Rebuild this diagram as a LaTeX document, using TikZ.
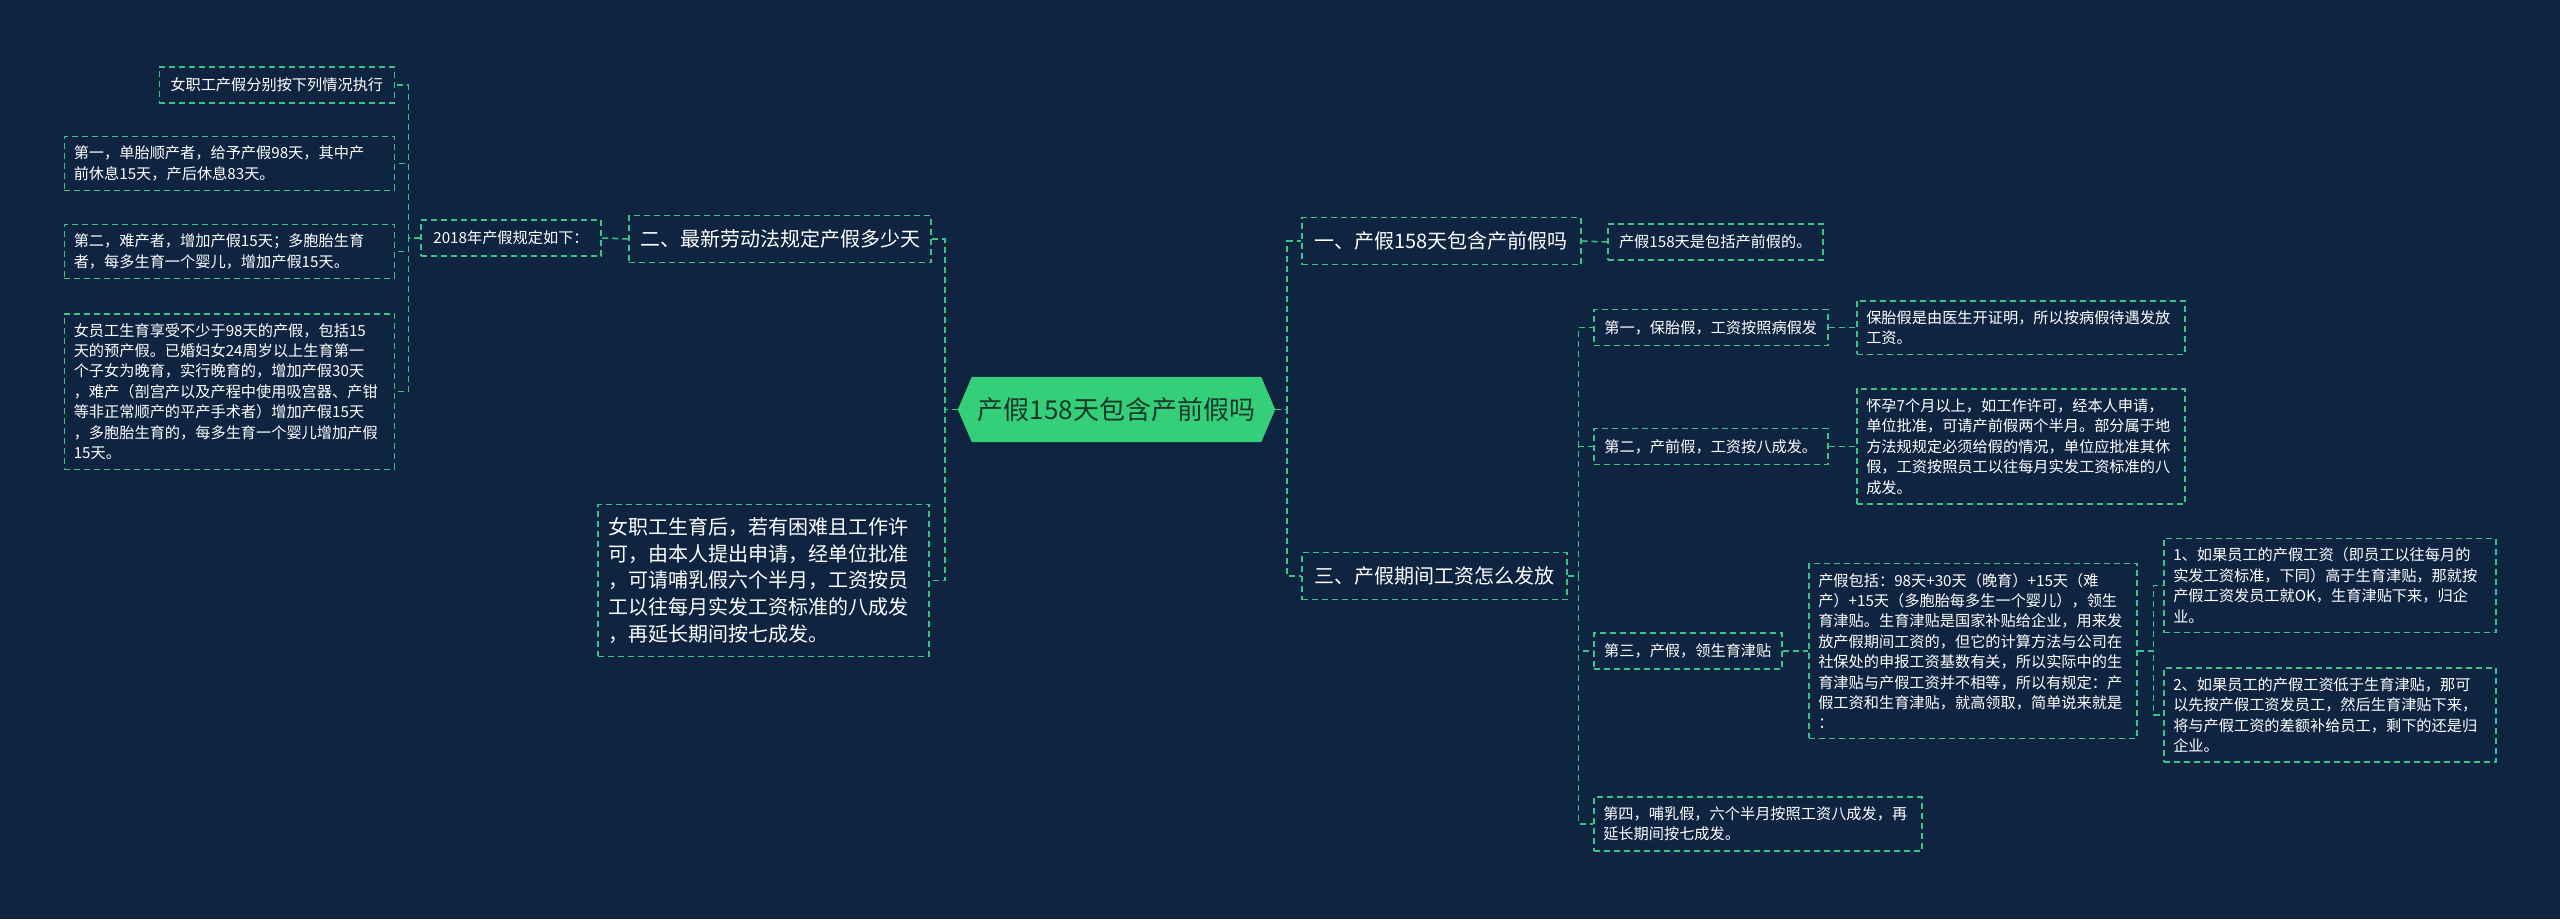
\documentclass[tikz,border=0pt]{standalone}
\usepackage{fontspec}
\setmainfont{Noto Sans CJK SC}
\usetikzlibrary{backgrounds}
\definecolor{bg}{HTML}{0E2441}
\definecolor{lineg}{HTML}{3CC483}
\definecolor{hexfill}{HTML}{34CF78}
\definecolor{hextext}{HTML}{17392B}

\begin{document}
\begin{tikzpicture}[x=1pt,y=-1pt,
    link/.style={draw=lineg, dash pattern=on 6pt off 4pt, line width=1.5pt},
    leaf/.style={draw=lineg, dash pattern=on 6pt off 4pt, line width=1.5pt, text=white,
      font=\fontsize{15.2}{20.4}\selectfont, inner xsep=9.5pt, inner ysep=9.5pt,
      minimum height=36pt, align=left},
    topic/.style={leaf, font=\fontsize{20}{26.7}\selectfont, inner xsep=10pt, inner ysep=13pt,
      minimum height=47pt},
    centre/.style={minimum width=317pt, minimum height=65pt, inner sep=0pt, text=hextext,
      font=\fontsize{26}{30}\selectfont}]
  \begin{scope}[on background layer]
    \fill[bg] (0,0) rectangle (2560,919);
  \end{scope}
  \useasboundingbox (0,0) rectangle (2560,919);

  \node[centre] (C) at (1116.5,409.5) {产假158天包含产前假吗};
  \begin{scope}[on background layer]
    \fill[hexfill] (C.west) -- ([xshift=14pt]C.north west) -- ([xshift=-14pt]C.north east)
      -- (C.east) -- ([xshift=-14pt]C.south east) -- ([xshift=14pt]C.south west) -- cycle;
  \end{scope}

  % left side
  \node[topic, minimum width=302pt] (law) at (780,239) {二、最新劳动法规定产假多少天};
  \node[leaf, minimum width=180pt] (rule) at (511,238) {2018年产假规定如下：};
  \node[leaf, anchor=east, minimum width=235pt] (rule0) at (395,85) {女职工产假分别按下列情况执行};
  \node[leaf, anchor=east, text width=311pt] (rule1) at (395,163.5) {第一，单胎顺产者，给予产假98天，其中产\\前休息15天，产后休息83天。};
  \node[leaf, anchor=east, text width=311pt] (rule2) at (395,251.5) {第二，难产者，增加产假15天；多胞胎生育\\者，每多生育一个婴儿，增加产假15天。};
  \node[leaf, anchor=east, text width=311pt] (rule3) at (395,391.5) {女员工生育享受不少于98天的产假，包括15\\天的预产假。已婚妇女24周岁以上生育第一\\个子女为晚育，实行晚育的，增加产假30天\\，难产（剖宫产以及产程中使用吸宫器、产钳\\等非正常顺产的平产手术者）增加产假15天\\，多胞胎生育的，每多生育一个婴儿增加产假\\15天。};
  \node[topic, text width=311pt] (nurse) at (763.5,580.5) {女职工生育后，若有困难且工作许\\可，由本人提出申请，经单位批准\\，可请哺乳假六个半月，工资按员\\工以往每月实发工资标准的八成发\\，再延长期间按七成发。};

  % right side
  \node[topic, anchor=west, minimum width=279pt] (pre) at (1301,241) {一、产假158天包含产前假吗};
  \node[leaf, anchor=west, minimum width=215pt] (pre1) at (1607,242) {产假158天是包括产前假的。};
  \node[topic, anchor=west, minimum width=265pt] (pay) at (1301,576) {三、产假期间工资怎么发放};
  \node[leaf, anchor=west, minimum width=234pt] (pay1) at (1593,327.5) {第一，保胎假，工资按照病假发};
  \node[leaf, anchor=west, text width=309pt] (pay1a) at (1856,327.5) {保胎假是由医生开证明，所以按病假待遇发放\\工资。};
  \node[leaf, anchor=west, minimum width=234pt] (pay2) at (1593,446.5) {第二，产前假，工资按八成发。};
  \node[leaf, anchor=west, text width=309pt] (pay2a) at (1856,446.5) {怀孕7个月以上，如工作许可，经本人申请，\\单位批准，可请产前假两个半月。部分属于地\\方法规规定必须给假的情况，单位应批准其休\\假，工资按照员工以往每月实发工资标准的八\\成发。};
  \node[leaf, anchor=west, minimum width=188pt] (pay3) at (1593,651) {第三，产假，领生育津贴};
  \node[leaf, anchor=west, text width=309pt] (pay3a) at (1808,651) {产假包括：98天+30天（晚育）+15天（难\\产）+15天（多胞胎每多生一个婴儿），领生\\育津贴。生育津贴是国家补贴给企业，用来发\\放产假期间工资的，但它的计算方法与公司在\\社保处的申报工资基数有关，所以实际中的生\\育津贴与产假工资并不相等，所以有规定：产\\假工资和生育津贴，就高领取，简单说来就是\\：};
  \node[leaf, anchor=west, text width=313pt] (pay3b) at (2163,585.5) {1、如果员工的产假工资（即员工以往每月的\\实发工资标准，下同）高于生育津贴，那就按\\产假工资发员工就OK，生育津贴下来，归企\\业。};
  \node[leaf, anchor=west, text width=313pt] (pay3c) at (2163,715) {2、如果员工的产假工资低于生育津贴，那可\\以先按产假工资发员工，然后生育津贴下来，\\将与产假工资的差额补给员工，剩下的还是归\\企业。};
  \node[leaf, anchor=west, text width=309pt] (pay4) at (1593,824) {第四，哺乳假，六个半月按照工资八成发，再\\延长期间按七成发。};

  % connectors
  \draw[link] (C.west) -- ++(-13,0) |- (law.east);
  \draw[link] (C.west) -- ++(-13,0) |- (nurse.east);
  \draw[link] (law.west) -- (rule.east);
  \foreach \n in {rule0,rule1,rule2,rule3}
    \draw[link] (rule.west) -- ++(-12,0) |- (\n.east);
  \draw[link] (C.east) -- ++(12,0) |- (pre.west);
  \draw[link] (C.east) -- ++(12,0) |- (pay.west);
  \draw[link] (pre.east) -- (pre1.west);
  \foreach \n in {pay1,pay2,pay3,pay4}
    \draw[link] (pay.east) -- ++(11,0) |- (\n.west);
  \draw[link] (pay1.east) -- (pay1a.west);
  \draw[link] (pay2.east) -- (pay2a.west);
  \draw[link] (pay3.east) -- (pay3a.west);
  \foreach \n in {pay3b,pay3c}
    \draw[link] (pay3a.east) -- ++(16,0) |- (\n.west);
\end{tikzpicture}
\end{document}
